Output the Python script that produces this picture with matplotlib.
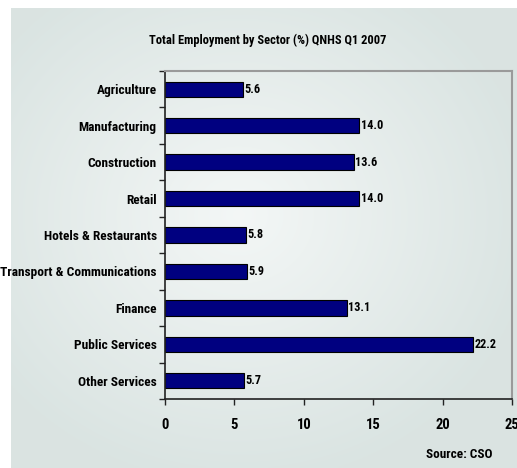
import matplotlib
matplotlib.use("Agg")
import matplotlib.pyplot as plt
import numpy as np

# Employment share by sector, QNHS Q1 2007
sectors = ["Agriculture", "Manufacturing", "Construction", "Retail",
           "Hotels & Restaurants", "Transport & Communications",
           "Finance", "Public Services", "Other Services"]
shares = [5.6, 14.0, 13.6, 14.0, 5.8, 5.9, 13.1, 22.2, 5.7]
xticks = [0, 5, 10, 15, 20, 25]

plt.rcParams['font.family'] = ['Roboto Condensed', 'DejaVu Sans']
plt.rcParams['font.weight'] = 'bold'

W, H = 517, 468
fig = plt.figure(figsize=(W / 100., H / 100.), dpi=100)
fig.patch.set_facecolor('white')

# Soft radial gradient panel behind the chart
bg = fig.add_axes([11. / W, 0, 1 - 11. / W, 1 - 8. / H])
bg.set_axis_off()
yy, xx = np.mgrid[0:1:200j, 0:1:220j]
r = np.sqrt(((xx - 0.45) / 0.9) ** 2 + ((yy - 0.45) / 0.9) ** 2)
r = np.clip(r / 0.65, 0, 1)
inner = np.array([0.955, 0.968, 0.965])
outer = np.array([0.855, 0.894, 0.886])
img = inner[None, None, :] * (1 - r[..., None]) + outer[None, None, :] * r[..., None]
bg.imshow(img, aspect='auto', extent=[0, 1, 0, 1], interpolation='bilinear')

left, right, top, bottom = 165., 512., 71., 399.
ax = fig.add_axes([left / W, 1 - bottom / H, (right - left) / W, (bottom - top) / H])
ax.patch.set_alpha(0)

y = np.arange(len(sectors))
ax.barh(y, shares, height=0.42, color='#000080', edgecolor='black', linewidth=0.8)
for yi, v in zip(y, shares):
    ax.text(v + 0.1, yi, "%.1f" % v, va='center', ha='left', fontsize=8.8, fontweight='bold')

ax.set_xlim(0, 25)
ax.set_ylim(len(sectors) - 0.5, -0.5)
ax.set_xticks(xticks)
ax.set_xticklabels([str(t) for t in xticks], fontsize=10.5, fontweight='bold')
ax.tick_params(axis='x', direction='out', length=4, width=1, pad=10, color='#222222')

# category boundaries get the tick marks, labels sit at bar centres
ax.set_yticks(np.arange(-0.5, len(sectors) + 0.5, 1.0))
ax.set_yticklabels([])
ax.set_yticks(y, minor=True)
ax.set_yticklabels(sectors, minor=True, fontsize=9.6, fontweight='bold')
ax.tick_params(axis='y', which='major', direction='out', length=4, width=1, color='#222222')
ax.tick_params(axis='y', which='minor', length=0, pad=6)

ax.spines['left'].set_color('#222222')
ax.spines['bottom'].set_color('#222222')
ax.spines['left'].set_linewidth(1.2)
ax.spines['bottom'].set_linewidth(1.2)
ax.spines['top'].set_color('#9a9a9a')
ax.spines['right'].set_color('#9a9a9a')
ax.spines['top'].set_linewidth(1.5)
ax.spines['right'].set_linewidth(1.5)

fig.text(268. / W, 1 - 40. / H, "Total Employment by Sector (%) QNHS Q1 2007",
         ha='center', va='center', fontsize=9, fontweight='bold')
fig.text(493. / W, 1 - 455. / H, "Source: CSO", ha='right', va='center',
         fontsize=9.5, fontweight='bold')

fig.savefig("out.png", dpi=100, facecolor=fig.get_facecolor())
